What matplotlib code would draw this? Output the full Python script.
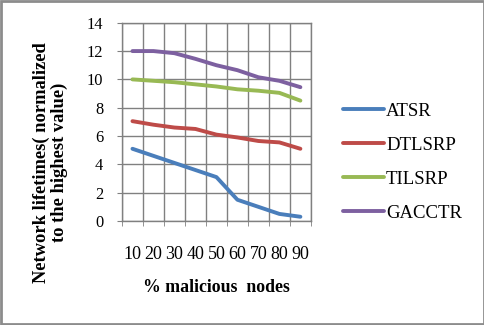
import matplotlib.pyplot as plt
from matplotlib.patches import Rectangle

# % malicious nodes
categories = ['10', '20', '30', '40', '50', '60', '70', '80', '90']

atsr = [5.1, 4.6, 4.1, 3.6, 3.1, 1.5, 1.0, 0.5, 0.3]
dtlsrp = [7.05, 6.8, 6.6, 6.5, 6.1, 5.9, 5.65, 5.55, 5.1]
tilsrp = [10.0, 9.9, 9.8, 9.65, 9.5, 9.3, 9.2, 9.05, 8.5]
gacctr = [12.0, 12.0, 11.85, 11.45, 11.0, 10.65, 10.15, 9.9, 9.45]

series = [('ATSR', atsr, '#4A7EBB'),
          ('DTLSRP', dtlsrp, '#BE4B48'),
          ('TILSRP', tilsrp, '#98B954'),
          ('GACCTR', gacctr, '#7D60A0')]

plt.rcParams['font.family'] = ['Liberation Serif', 'DejaVu Serif']

fig = plt.figure(figsize=(4.85, 3.25), dpi=100)
ax = fig.add_axes([0.2515, 0.32, 0.3895, 0.61])

x = list(range(1, len(categories) + 1))
for name, vals, col in series:
    ax.plot(x, vals, color=col, linewidth=2.8, label=name, solid_capstyle='round')

ax.set_xlim(0.5, len(categories) + 0.5)
ax.set_ylim(0, 14)
ax.set_yticks(range(0, 15, 2))
ax.set_xticks(x)
ax.set_xticklabels(categories)
ax.set_xticks([i + 0.5 for i in range(0, len(categories) + 1)], minor=True)

ax.grid(True, which='minor', axis='x', color='#808080', linewidth=1)
ax.grid(True, which='major', axis='y', color='#808080', linewidth=1)
ax.set_axisbelow(True)
for s in ax.spines.values():
    s.set_color('#808080')
    s.set_linewidth(1)

ax.tick_params(axis='y', which='major', length=3.5, color='#808080', labelsize=11.8, pad=10)
ax.tick_params(axis='x', which='major', length=0, labelsize=13, pad=18)
ax.tick_params(axis='x', which='minor', length=3.5, color='#808080')

# axis titles placed like the original (y title sits lower than the plot centre)
fig.text(0.4465, 0.114, '% malicious  nodes', fontsize=12.8, fontweight='bold',
         ha='center', va='center')
fig.text(0.104, 0.5, 'Network lifetimes( normalized\nto the highest value)', fontsize=13.3,
         fontweight='bold', rotation=90, ha='center', va='center', linespacing=1.0,
         multialignment='center')

ax.legend(loc='center left', bbox_to_anchor=(0.707, 0.5015), bbox_transform=fig.transFigure,
          frameon=False, fontsize=13.5, borderaxespad=0, borderpad=0,
          handlelength=2.2, handletextpad=0.1, labelspacing=0.9)

fig.patches.append(Rectangle((0.002, 0.003), 0.996, 0.994, transform=fig.transFigure,
                             fill=False, edgecolor='#8c8c8c', linewidth=2))

fig.savefig('out.png', dpi=100)
